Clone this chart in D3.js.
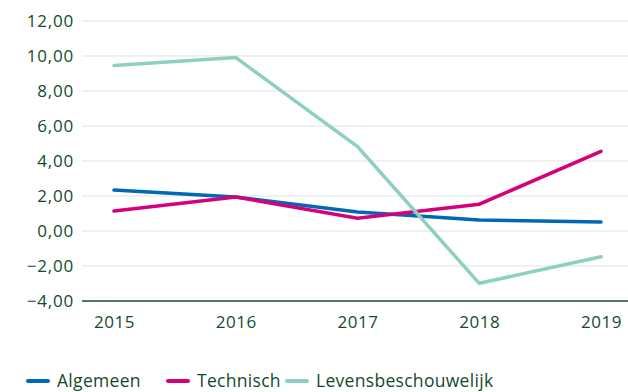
<!DOCTYPE html>
<html>
<head>
<meta charset="utf-8">
<script src="https://cdn.jsdelivr.net/npm/d3@7"></script>
<style>
  html, body { margin: 0; padding: 0; background: #fff; }
  svg { display: block; }
  text { font-family: "Open Sans", "Noto Sans", sans-serif; fill: #144a2b; }
</style>
</head>
<body>
<svg id="chart" width="628" height="392"></svg>
<script>
// Jaren en reeksen
const years = ["2015", "2016", "2017", "2018", "2019"];
const algemeen = [2.34, 1.94, 1.08, 0.63, 0.51];
const technisch = [1.14, 1.94, 0.73, 1.53, 4.55];
const levensbeschouwelijk = [9.46, 9.91, 4.82, -2.99, -1.47];
const yTicks = [-4, -2, 0, 2, 4, 6, 8, 10, 12];
const seriesNames = ["Algemeen", "Technisch", "Levensbeschouwelijk"];
const seriesColors = ["#0068b4", "#d4007c", "#8fcfc2"];

const series = [algemeen, technisch, levensbeschouwelijk].map((v, i) => ({
  name: seriesNames[i], color: seriesColors[i], values: v
}));

const svg = d3.select("#chart");

const x = d3.scalePoint().domain(years).range([114, 601]);
const y = d3.scaleLinear().domain([-4, 12]).range([301, 21]);
const fmt = d => d3.format(".2f")(d).replace(".", ",");

// Horizontale rasterlijnen
svg.append("g")
  .selectAll("line")
  .data(yTicks.filter(t => t !== -4))
  .join("line")
  .attr("x1", 82).attr("x2", 628)
  .attr("y1", d => y(d)).attr("y2", d => y(d))
  .attr("stroke", "#dce3e0").attr("stroke-width", 1.2);

// Y-as labels
svg.append("g")
  .selectAll("text")
  .data(yTicks)
  .join("text")
  .attr("x", 74)
  .attr("y", d => y(d))
  .attr("dy", "0.35em")
  .attr("text-anchor", "end")
  .attr("font-size", 17)
  .attr("letter-spacing", 0.8)
  .text(fmt);

// X-as
const xAxis = svg.append("g")
  .attr("transform", `translate(0,${y(-4)})`)
  .call(d3.axisBottom(x).tickSize(0).tickPadding(15));
xAxis.select(".domain").remove();
xAxis.append("line")
  .attr("x1", 82).attr("x2", 628)
  .attr("stroke", "#144a2b").attr("stroke-width", 1.3);
xAxis.selectAll(".tick text")
  .attr("font-size", 17)
  .attr("letter-spacing", 0.5)
  .attr("font-family", "\"Open Sans\", \"Noto Sans\", sans-serif")
  .attr("fill", "#144a2b");

// Lijnen
const line = d3.line()
  .x((d, i) => x(years[i]))
  .y(d => y(d));

svg.append("g")
  .selectAll("path")
  .data(series)
  .join("path")
  .attr("d", d => line(d.values))
  .attr("fill", "none")
  .attr("stroke", d => d.color)
  .attr("stroke-width", 3.5)
  .attr("stroke-linecap", "round")
  .attr("stroke-linejoin", "miter");

// Legenda
const legendX = [28, 168, 287];
const legend = svg.append("g")
  .selectAll("g")
  .data(series)
  .join("g")
  .attr("transform", (d, i) => `translate(${legendX[i]},381)`);
legend.append("line")
  .attr("x1", 0).attr("x2", 20)
  .attr("stroke", d => d.color)
  .attr("stroke-width", 4)
  .attr("stroke-linecap", "round");
legend.append("text")
  .attr("x", 29)
  .attr("dy", "0.35em")
  .attr("font-size", 17.5)
  .attr("letter-spacing", 0.3)
  .text(d => d.name);
</script>
</body>
</html>
